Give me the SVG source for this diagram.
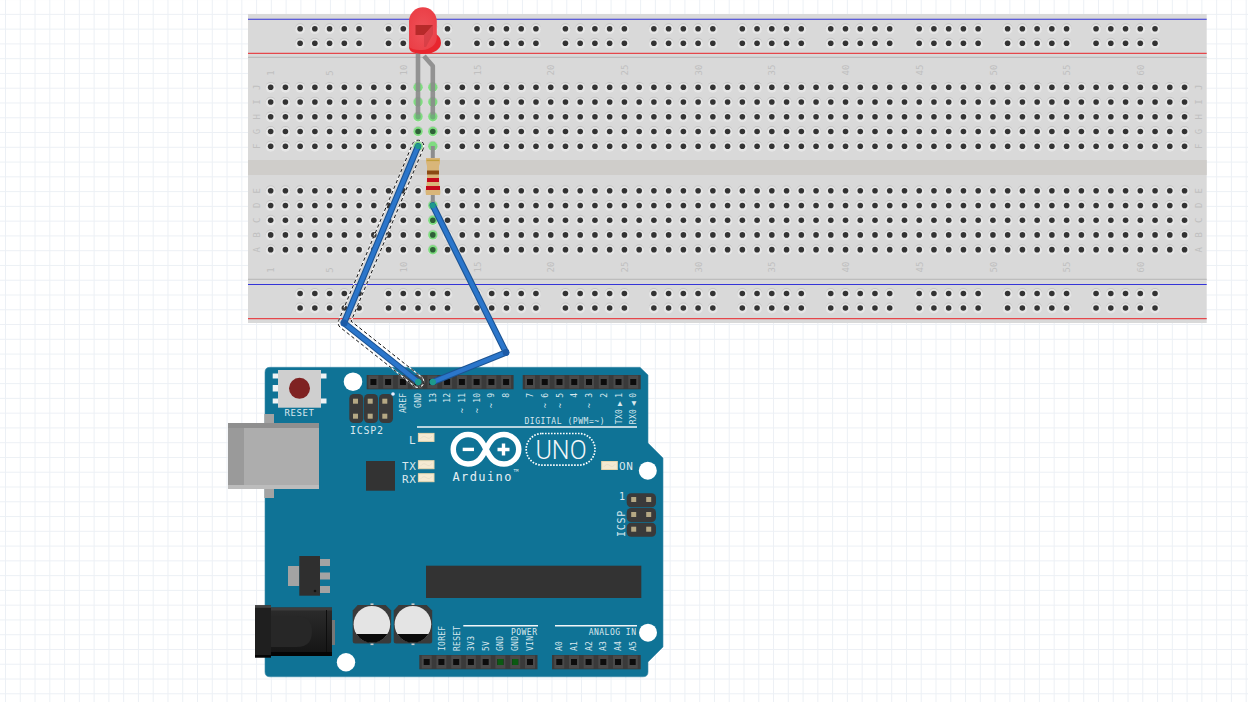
<svg xmlns="http://www.w3.org/2000/svg" width="1248" height="702" viewBox="0 0 1248 702">
<style>
.bl{font:9px "DejaVu Sans Mono","Liberation Mono",monospace;fill:#bfbfbf;text-anchor:middle}
.ar{font:8px "DejaVu Sans Mono","Liberation Mono",monospace;fill:#d9e8ee;letter-spacing:.25px}
.en{text-anchor:end}
.big{font-size:10px;letter-spacing:.7px}
.hd{fill:#3a3a3a}
.led{fill:#f4ead2;stroke:#e6d6ae;stroke-width:1}
.hl{fill:none;stroke:#e3dac4;stroke-width:.7}
.pad{fill:#b5a884}
.wo{fill:none;stroke:#1c5493;stroke-width:6.4;stroke-linecap:round;stroke-linejoin:round}
.wi{fill:none;stroke:#2b76cb;stroke-width:4.2;stroke-linecap:round;stroke-linejoin:round}
.end{fill:#1d9a8c}
.gh{fill:#7fdc80}
.gd{fill:#2f5f38}
.leg{fill:none;stroke:#8a8a8a;stroke-width:4.6;stroke-opacity:.9;stroke-linejoin:round}
.mh{fill:#fff}
.line{stroke:#f2f6f8;stroke-width:1.4}
</style>
<defs>
<pattern id="grid" width="14.77" height="14.77" patternUnits="userSpaceOnUse" x="5" y="-.9">
<path d="M.5 0V14.77M0 .5H14.77" fill="none" stroke="#ecf0f5" stroke-width="1"/>
</pattern>
<linearGradient id="jack" x1="0" y1="0" x2="0" y2="1"><stop offset="0" stop-color="#2c2c2c"/><stop offset="1" stop-color="#141414"/></linearGradient>
<radialGradient id="dome" cx=".5" cy=".55" r=".7"><stop offset="0" stop-color="#ef5259"/><stop offset="1" stop-color="#ea3b43"/></radialGradient>
<g id="h"><circle r="4.9" cy="-.5" fill="#c6c6c6"/><circle r="4.9" cy=".5" fill="#e6e6e6"/><circle r="2.8" fill="#333"/></g>
<g id="h5"><use href="#h"/><use href="#h" x="14.74"/><use href="#h" x="29.48"/><use href="#h" x="44.22"/><use href="#h" x="58.96"/></g>
<g id="h20"><use href="#h5"/><use href="#h5" x="73.7"/><use href="#h5" x="147.4"/><use href="#h5" x="221.1"/></g>
<g id="row"><use href="#h20"/><use href="#h20" x="294.8"/><use href="#h20" x="589.6"/><use href="#h" x="884.4"/><use href="#h" x="899.14"/><use href="#h" x="913.88"/></g>
<g id="block"><use href="#row"/><use href="#row" y="14.74"/><use href="#row" y="29.48"/><use href="#row" y="44.22"/><use href="#row" y="58.96"/></g>
<g id="rg"><use href="#h5"/><use href="#h5" y="14.5"/></g>
<g id="rail"><use href="#rg"/><use href="#rg" x="88.44"/><use href="#rg" x="176.88"/><use href="#rg" x="265.32"/><use href="#rg" x="353.76"/><use href="#rg" x="442.2"/><use href="#rg" x="530.64"/><use href="#rg" x="619.08"/><use href="#rg" x="707.52"/><use href="#rg" x="795.96"/></g>
<g id="pin"><rect x="-5" y="-6.5" width="10" height="13" fill="#4a4a4a"/><rect x="-3" y="-3" width="6" height="6" fill="#0c0c0c"/></g>
<g id="ledp"><rect width="15.6" height="8" class="led"/><path d="M2 5.5Q5 1.5 8 4T13.6 2.5" class="hl"/></g>
<g id="cap"><path d="M5 0H33L38.5 5.5V36Q38.5 38.5 36 38.5H2.5Q0 38.5 0 36V5.5Z" fill="#3a3a3a"/><rect x="17.8" y="-1.6" width="3" height="1.6" fill="#ccc"/><rect x="17.8" y="38.5" width="3" height="1.6" fill="#ccc"/><circle cx="19.2" cy="19.2" r="18.3" fill="#e4e4e4"/><path d="M3.6 29H34.8A18.3 18.3 0 0 1 3.6 29Z" fill="#0a0a0a"/></g>
</defs>
<rect width="1248" height="702" fill="#fff"/>
<rect width="1248" height="702" fill="url(#grid)"/>

<g id="breadboard">
<rect x="248" y="14" width="958.7" height="309" fill="#d9d9d9"/>
<rect x="248" y="160" width="958.7" height="15" fill="#cfcdca"/>
<path d="M248 57.3H1206.7M248 279.3H1206.7" stroke="#bdbdbd" stroke-width="1.2"/>
<path d="M248 19.2H1206.7M248 284.5H1206.7" stroke="#3434d8" stroke-width="1.1"/>
<path d="M248 53.4H1206.7M248 318.6H1206.7" stroke="#e5474b" stroke-width="1.1"/>
<use href="#rail" x="300.1" y="28.7"/>
<use href="#rail" x="300.1" y="293.5"/>
<use href="#block" x="270.67" y="87.3"/>
<use href="#block" x="270.67" y="190.7"/>
<g class="bl">
<text transform="translate(273.7,73) rotate(-90)">1</text><text transform="translate(332.7,73) rotate(-90)">5</text><text transform="translate(406.6,70) rotate(-90)">10</text><text transform="translate(480.5,70) rotate(-90)">15</text><text transform="translate(554.2,70) rotate(-90)">20</text><text transform="translate(628,70) rotate(-90)">25</text><text transform="translate(701.7,70) rotate(-90)">30</text><text transform="translate(775.4,70) rotate(-90)">35</text><text transform="translate(849.1,70) rotate(-90)">40</text><text transform="translate(922.8,70) rotate(-90)">45</text><text transform="translate(996.5,70) rotate(-90)">50</text><text transform="translate(1070.2,70) rotate(-90)">55</text><text transform="translate(1143.9,70) rotate(-90)">60</text>
<text transform="translate(273.7,270) rotate(-90)">1</text><text transform="translate(332.7,270) rotate(-90)">5</text><text transform="translate(406.6,267) rotate(-90)">10</text><text transform="translate(480.5,267) rotate(-90)">15</text><text transform="translate(554.2,267) rotate(-90)">20</text><text transform="translate(628,267) rotate(-90)">25</text><text transform="translate(701.7,267) rotate(-90)">30</text><text transform="translate(775.4,267) rotate(-90)">35</text><text transform="translate(849.1,267) rotate(-90)">40</text><text transform="translate(922.8,267) rotate(-90)">45</text><text transform="translate(996.5,267) rotate(-90)">50</text><text transform="translate(1070.2,267) rotate(-90)">55</text><text transform="translate(1143.9,267) rotate(-90)">60</text>
<text transform="translate(260,87.3) rotate(-90)">J</text><text transform="translate(260,102) rotate(-90)">I</text><text transform="translate(260,116.8) rotate(-90)">H</text><text transform="translate(260,131.5) rotate(-90)">G</text><text transform="translate(260,146.3) rotate(-90)">F</text>
<text transform="translate(260,190.7) rotate(-90)">E</text><text transform="translate(260,205.4) rotate(-90)">D</text><text transform="translate(260,220.2) rotate(-90)">C</text><text transform="translate(260,234.9) rotate(-90)">B</text><text transform="translate(260,249.7) rotate(-90)">A</text>
<text transform="translate(1201.5,87.3) rotate(-90)">J</text><text transform="translate(1201.5,102) rotate(-90)">I</text><text transform="translate(1201.5,116.8) rotate(-90)">H</text><text transform="translate(1201.5,131.5) rotate(-90)">G</text><text transform="translate(1201.5,146.3) rotate(-90)">F</text>
<text transform="translate(1201.5,190.7) rotate(-90)">E</text><text transform="translate(1201.5,205.4) rotate(-90)">D</text><text transform="translate(1201.5,220.2) rotate(-90)">C</text><text transform="translate(1201.5,234.9) rotate(-90)">B</text><text transform="translate(1201.5,249.7) rotate(-90)">A</text>
</g>
<g id="green-holes">
<g class="gh"><circle cx="418.07" cy="87.3" r="4.7"/><circle cx="418.07" cy="102" r="4.7"/><circle cx="418.07" cy="116.8" r="4.7"/><circle cx="418.07" cy="131.5" r="4.7"/><circle cx="418.07" cy="146.3" r="4.7"/><circle cx="432.81" cy="87.3" r="4.7"/><circle cx="432.81" cy="102" r="4.7"/><circle cx="432.81" cy="116.8" r="4.7"/><circle cx="432.81" cy="131.5" r="4.7"/><circle cx="432.81" cy="146.3" r="4.7"/><circle cx="432.81" cy="205.4" r="4.7"/><circle cx="432.81" cy="220.2" r="4.7"/><circle cx="432.81" cy="234.9" r="4.7"/><circle cx="432.81" cy="249.7" r="4.7"/></g>
<g class="gd"><circle cx="418.07" cy="131.5" r="2.8"/><circle cx="432.81" cy="131.5" r="2.8"/><circle cx="432.81" cy="220.2" r="2.8"/><circle cx="432.81" cy="234.9" r="2.8"/><circle cx="432.81" cy="249.7" r="2.8"/></g>
</g>
</g>

<g id="arduino">
<path d="M270 367.3H640L648 375V443L663 458V647L648 662V672Q648 676.8 643 676.8H270Q265 676.8 265 672V372.3Q265 367.3 270 367.3Z" fill="#0f7396" stroke="#3a8aa8" stroke-width=".6"/>
<g id="reset">
<g fill="#eef3f5"><rect x="272.7" y="373.5" width="6" height="5"/><rect x="272.7" y="385" width="6" height="6.5"/><rect x="272.7" y="398.5" width="6" height="5"/><rect x="320" y="373.5" width="6.5" height="5"/><rect x="320" y="398.5" width="6.5" height="5"/></g>
<rect x="278" y="370" width="43" height="37.7" fill="#cfcfcf"/>
<circle cx="299.5" cy="388.3" r="10.5" fill="#7f2222"/>
<text x="299.5" y="415.5" class="ar" text-anchor="middle" style="font-size:9px;letter-spacing:.6px">RESET</text>
</g>
<g class="mh"><circle cx="353" cy="381.7" r="9.3"/><circle cx="647.8" cy="470.7" r="9"/><circle cx="648" cy="632.7" r="9"/><circle cx="346" cy="662.3" r="9.2"/></g>
<g id="icsp2">
<rect x="349.3" y="394" width="14" height="29" rx="4.5" class="hd"/><rect x="364" y="394" width="14" height="29" rx="4.5" class="hd"/><rect x="379" y="394" width="14" height="29" rx="4.5" class="hd"/>
<g class="pad"><rect x="353" y="398.7" width="5" height="5"/><rect x="367.7" y="398.7" width="5" height="5"/><rect x="382.3" y="398.7" width="5" height="5"/><rect x="353" y="413.7" width="5" height="5"/><rect x="367.7" y="413.7" width="5" height="5"/><rect x="382.3" y="413.7" width="5" height="5"/></g>
<circle cx="393" cy="394" r="1.8" fill="#eef"/>
<text x="350" y="434" class="ar big">ICSP2</text>
</g>
<g id="headers">
<rect x="366.7" y="375" width="146.9" height="14.3" class="hd"/><rect x="522.7" y="375" width="118" height="14.3" class="hd"/>
<rect x="419.3" y="655" width="118.2" height="14.3" class="hd"/><rect x="552" y="655" width="88.7" height="14.3" class="hd"/>
<g transform="translate(0,382)"><use href="#pin" x="373.4"/><use href="#pin" x="388.1"/><use href="#pin" x="402.9"/><use href="#pin" x="417.6"/><use href="#pin" x="432.4"/><use href="#pin" x="447.1"/><use href="#pin" x="461.9"/><use href="#pin" x="476.6"/><use href="#pin" x="491.4"/><use href="#pin" x="506.1"/>
<use href="#pin" x="530"/><use href="#pin" x="544.75"/><use href="#pin" x="559.5"/><use href="#pin" x="574.25"/><use href="#pin" x="589"/><use href="#pin" x="603.75"/><use href="#pin" x="618.5"/><use href="#pin" x="633.25"/></g>
<g transform="translate(0,662)"><use href="#pin" x="426.7"/><use href="#pin" x="441.4"/><use href="#pin" x="456.2"/><use href="#pin" x="470.9"/><use href="#pin" x="485.7"/><use href="#pin" x="500.4"/><use href="#pin" x="515.2"/><use href="#pin" x="530"/>
<use href="#pin" x="559.3"/><use href="#pin" x="574"/><use href="#pin" x="588.6"/><use href="#pin" x="603.3"/><use href="#pin" x="618"/><use href="#pin" x="632.7"/></g>
<rect x="497.4" y="659" width="6" height="6" fill="#0b5a12"/><rect x="512.2" y="659" width="6" height="6" fill="#0b5a12"/>
</g>
<g class="ar">
<g class="en"><text transform="translate(406,392.7) rotate(-90)">AREF</text><text transform="translate(421,392.7) rotate(-90)">GND</text><text transform="translate(435.7,392.7) rotate(-90)">13</text><text transform="translate(450.4,392.7) rotate(-90)">12</text><text transform="translate(465,392.7) rotate(-90)">~ 11</text><text transform="translate(479.7,392.7) rotate(-90)">~ 10</text><text transform="translate(494.4,392.7) rotate(-90)">~ 9</text><text transform="translate(509,392.7) rotate(-90)">8</text>
<text transform="translate(533,392.7) rotate(-90)">7</text><text transform="translate(547.7,392.7) rotate(-90)">~ 6</text><text transform="translate(562.5,392.7) rotate(-90)">~ 5</text><text transform="translate(577.2,392.7) rotate(-90)">4</text><text transform="translate(592,392.7) rotate(-90)">~ 3</text><text transform="translate(606.7,392.7) rotate(-90)">2</text><text transform="translate(621.5,392.7) rotate(-90)" word-spacing="-2">TX0 ▶ 1</text><text transform="translate(636.2,392.7) rotate(-90)" word-spacing="-2">RX0 ◀ 0</text>
<text x="605" y="423.5" style="letter-spacing:.55px">DIGITAL (PWM=~)</text>
<text x="537.5" y="635" style="letter-spacing:.5px">POWER</text><text x="636.5" y="635" style="letter-spacing:.5px">ANALOG IN</text></g>
<text transform="translate(445,651) rotate(-90)">IOREF</text><text transform="translate(459.5,651) rotate(-90)">RESET</text><text transform="translate(474,651) rotate(-90)">3V3</text><text transform="translate(488.7,651) rotate(-90)">5V</text><text transform="translate(503.4,651) rotate(-90)">GND</text><text transform="translate(518,651) rotate(-90)">GND</text><text transform="translate(533,651) rotate(-90)">VIN</text>
<text transform="translate(562.3,651) rotate(-90)">A0</text><text transform="translate(577,651) rotate(-90)">A1</text><text transform="translate(591.6,651) rotate(-90)">A2</text><text transform="translate(606.3,651) rotate(-90)">A3</text><text transform="translate(621,651) rotate(-90)">A4</text><text transform="translate(635.7,651) rotate(-90)">A5</text>
</g>
<path d="M417 427H637M463.3 625.7H538M555 625.7H637" class="line"/>
<g id="usb">
<rect x="264.3" y="414" width="9.7" height="84" fill="#a3a3a3"/>
<rect x="228" y="423" width="91" height="66" fill="#adadad"/>
<rect x="228" y="423" width="16" height="66" fill="#9a9a9a"/>
<rect x="228" y="423" width="91" height="5" fill="#8f8f8f"/>
<rect x="228" y="485" width="91" height="4" fill="#bcbcbc"/>
</g>
<g id="leds">
<use href="#ledp" x="418.4" y="433.4"/><use href="#ledp" x="418.4" y="460.7"/><use href="#ledp" x="418.4" y="473.7"/><use href="#ledp" x="601.7" y="461.5"/>
<g class="ar big" style="font-size:11px"><text x="409" y="443.5">L</text><text x="402" y="469.5">TX</text><text x="402" y="483">RX</text><text x="619" y="469.5">ON</text></g>
</g>
<rect id="chip-small" x="366" y="461" width="29" height="29.7" fill="#333"/>
<rect id="chip-main" x="426" y="565.7" width="215.3" height="32.3" fill="#333"/>
<g id="logo">
<path d="M468 434.5C478 434.5 482 441 486 449.3C490 457.5 494 464 504 464A14.75 14.75 0 0 0 504 434.5C494 434.5 490 441 486 449.3C482 457.5 478 464 468 464A14.75 14.75 0 0 1 468 434.5Z" fill="none" stroke="#fff" stroke-width="5.5"/>
<rect x="462.7" y="447.7" width="11.3" height="3.4" fill="#fff"/>
<path d="M497.5 449.5H509.5M503.5 443.5V455.5" stroke="#fff" stroke-width="3.4"/>
<text x="452.5" y="480.5" style="font:12px 'DejaVu Sans Mono','Liberation Mono',monospace;letter-spacing:1.4px" fill="#e6f0f4">Arduino</text>
<text x="513.5" y="472" style="font:4px 'DejaVu Sans Mono','Liberation Mono',monospace" fill="#e6f0f4">TM</text>
<rect x="526.2" y="433.5" width="68.8" height="31.6" rx="15.8" fill="none" stroke="#fff" stroke-width="1.7" stroke-dasharray="1.6 1.4"/>
<text x="561" y="458.5" text-anchor="middle" style="font:300 25px Roboto,'Liberation Sans',sans-serif" fill="#f2f7f9">UNO</text>
</g>
<g id="icsp">
<rect x="626.7" y="493.3" width="29.3" height="14" rx="4.5" class="hd"/><rect x="626.7" y="508" width="29.3" height="14" rx="4.5" class="hd"/><rect x="626.7" y="522.7" width="29.3" height="14" rx="4.5" class="hd"/>
<g class="pad"><rect x="631.2" y="497" width="5" height="5"/><rect x="646.2" y="497" width="5" height="5"/><rect x="631.2" y="512" width="5" height="5"/><rect x="646.2" y="512" width="5" height="5"/><rect x="631.2" y="526.7" width="5" height="5"/><rect x="646.2" y="526.7" width="5" height="5"/></g>
<text x="619" y="500" class="ar big">1</text>
<text transform="translate(625,537) rotate(-90)" class="ar big">ICSP</text>
</g>
<g id="regulator">
<rect x="288" y="566" width="11.3" height="20" fill="#a3a3a3"/>
<g fill="#a3a3a3"><rect x="320" y="559" width="10" height="7"/><rect x="320" y="572.5" width="10" height="7"/><rect x="320" y="586" width="10" height="7"/></g>
<rect x="299.3" y="556" width="20.7" height="39.7" fill="#2f2f2f"/><circle cx="315" cy="591" r="1.3" fill="#111"/>
</g>
<g id="jack-part">
<rect x="332" y="620" width="3" height="25" fill="#777"/>
<rect x="271" y="607.5" width="61" height="48.5" fill="url(#jack)"/>
<rect x="271" y="607.5" width="61" height="3" fill="#3d3d3d"/>
<rect x="271" y="652" width="61" height="4" fill="#050505"/>
<path d="M271 616H297Q312 616 312 631.5T297 647H271Z" fill="#272727"/>
<rect x="326" y="610" width="1" height="42" fill="#0d0d0d"/>
<rect x="255" y="605.3" width="16" height="52.2" fill="#1f1f1f"/><rect x="255" y="605.3" width="16" height="2.5" fill="#444"/><rect x="255" y="655" width="16" height="2.5" fill="#050505"/>
</g>
<use id="cap1" href="#cap" x="352.7" y="605"/>
<use id="cap2" href="#cap" x="393.7" y="605"/>
</g>

<g id="led-part">
<path d="M418 50V116" class="leg"/>
<path d="M424 56L432.8 66V116" class="leg"/>
<circle cx="418.07" cy="116.8" r="2.6" fill="#6fae78"/><circle cx="432.81" cy="116.8" r="2.6" fill="#6fae78"/>
<path d="M420 34H436Q441 37 441 43C441 49 434 54 424 54C415 54 409 52 409 47Z" fill="#e8262e"/>
<path d="M409 47V21.5A13.9 14.2 0 0 1 436.8 21.5V38C436.5 45 430 49.5 422 50Q413 50.5 409 47Z" fill="url(#dome)"/>
<path d="M415.5 25H433L424 35H415.5Z" fill="#b72a2a"/>
<path d="M433 25V34L426 47H424V35Z" fill="#c9383f" opacity=".55"/>
</g>

<g id="resistor">
<path d="M432.8 146V158M432.8 195V205" stroke="#8d8d8d" stroke-width="4"/>
<path d="M426 158H440Q440.5 163 439 166Q438.5 176 439.5 186Q441 192 440 195H426Q424.8 191 426.5 186Q427.5 176 427 166Q425.5 162 426 158Z" fill="#d9b679"/>
<rect x="426.6" y="159.7" width="12.8" height="1.4" fill="#c29f3d"/>
<rect x="427" y="170.5" width="12" height="4" fill="#8a4a14"/>
<rect x="427" y="178" width="12" height="4" fill="#c4091b"/>
<rect x="426" y="186" width="14" height="4" fill="#c4091b"/>
</g>

<g id="connectors">
<path d="M423.4 148.3L351.1 321.2L422.1 377.5A5.8 5.8 0 0 1 414.9 386.5L340.4 327.5A5.8 5.8 0 0 1 338.6 320.7L412.6 143.7A5.8 5.8 0 0 1 423.4 148.3Z" fill="none" stroke="#fff" stroke-width="1.1"/>
<path d="M423.4 148.3L351.1 321.2L422.1 377.5A5.8 5.8 0 0 1 414.9 386.5L340.4 327.5A5.8 5.8 0 0 1 338.6 320.7L412.6 143.7A5.8 5.8 0 0 1 423.4 148.3Z" fill="none" stroke="#111" stroke-width="1" stroke-dasharray="3.5 2.5"/>
<path d="M418 146.3L344 323L418.2 382" class="wo"/><path d="M418 146.3L344 323L418.2 382" class="wi"/>
<path d="M432.8 205.4L506 352.5L432.8 382" class="wo"/><path d="M432.8 205.4L506 352.5L432.8 382" class="wi"/>
<circle cx="344" cy="323" r="3.6" fill="#1c5aa6"/><circle cx="506" cy="352.5" r="3.4" fill="#1c5aa6"/>
<circle cx="418.07" cy="146.3" r="2.8" class="end"/><circle cx="432.81" cy="205.4" r="2.8" class="end"/><circle cx="418.2" cy="382" r="3.2" class="end"/><circle cx="432.8" cy="382" r="3.2" class="end"/>
</g>
</svg>
